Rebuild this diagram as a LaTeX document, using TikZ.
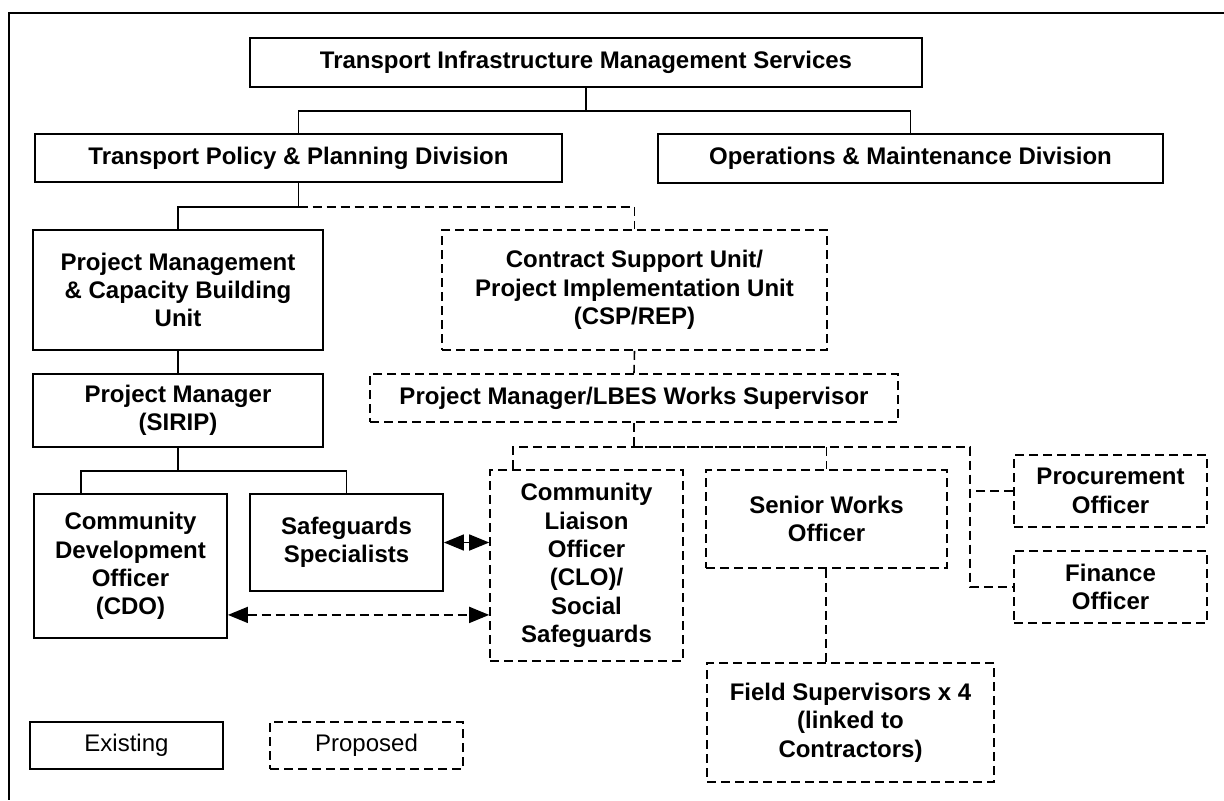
\documentclass[tikz,border=0pt]{standalone}
\usepackage{fontspec}
\setmainfont{Liberation Sans}
\usetikzlibrary{calc,arrows.meta}

\begin{document}
\begin{tikzpicture}[x=0.5pt,y=-0.5pt,
	unit/.style={draw,line width=0.9pt,inner sep=0pt,align=center,font=\bfseries\fontsize{12}{14.2}\selectfont},
	newunit/.style={unit,line width=0.8pt,dash pattern=on 4.5pt off 2.5pt},
	link/.style={line width=0.8pt},
	newlink/.style={line width=0.8pt,dash pattern=on 4.5pt off 2.5pt},
	both/.style={{Triangle[length=10pt,width=8pt]}-{Triangle[length=10pt,width=8pt]}}]
	\useasboundingbox (0,0) rectangle (1224,800);
	\draw[line width=1pt] (1224,13) -| (9,800);
	% existing units
	\node[unit,minimum width=336pt,minimum height=24.5pt] (tims) at (586,62.5) {Transport Infrastructure Management Services};
	\node[unit,minimum width=263.5pt,minimum height=24pt] (tpp) at (298.5,158) {Transport Policy \& Planning Division};
	\node[unit,minimum width=252.5pt,minimum height=24.5pt] (omd) at (910.5,158.5) {Operations \& Maintenance Division};
	\node[unit,minimum width=145pt,minimum height=60pt] (pmcb) at (178,290) {Project Management\\\& Capacity Building\\Unit};
	\node[unit,minimum width=145pt,minimum height=36.5pt] (sirip) at (178,410.5) {Project Manager\\(SIRIP)};
	\node[unit,minimum width=96.5pt,minimum height=72pt] (cdo) at (130.5,566) {Community\\Development\\Officer\\(CDO)};
	\node[unit,minimum width=96.5pt,minimum height=48.5pt] (safe) at (346.5,542.5) {Safeguards\\Specialists};
	% proposed units
	\node[newunit,minimum width=192.5pt,minimum height=60pt] (csu) at (634.5,290) {Contract Support Unit/\\Project Implementation Unit\\(CSP/REP)};
	\node[newunit,minimum width=264pt,minimum height=24pt] (pmlbes) at (634,398) {Project Manager/LBES Works Supervisor};
	\node[newunit,minimum width=96.5pt,minimum height=95.5pt] (clo) at (586.5,565.5) {Community\\Liaison\\Officer\\(CLO)/\\Social\\Safeguards};
	\node[newunit,minimum width=120.5pt,minimum height=49pt] (swo) at (826.5,519) {Senior Works\\Officer};
	\node[newunit,minimum width=96.5pt,minimum height=36pt] (proc) at (1110.5,491) {Procurement\\Officer};
	\node[newunit,minimum width=96.5pt,minimum height=36pt] (fin) at (1110.5,587) {Finance\\Officer};
	\node[newunit,minimum width=143.5pt,minimum height=59.5pt] (field) at (850.5,722.5) {Field Supervisors x 4\\(linked to\\Contractors)};
	% legend
	\node[unit,font=\fontsize{12}{14.2}\selectfont,minimum width=96.5pt,minimum height=23.5pt] (exist) at (126.5,745.5) {Existing};
	\node[newunit,font=\fontsize{12}{14.2}\selectfont,minimum width=96.5pt,minimum height=23.5pt] (prop) at (366.5,745.5) {Proposed};
	% lines
	\draw[link] (tims.south) -- ++(0,23) coordinate (j1);
	\draw[link] (tpp.north) |- (j1) -| (omd.north);
	\draw[link] (tpp.south) -- ++(0,24) coordinate (j2) -| (pmcb.north);
	\draw[newlink] (j2) -| (csu.north);
	\draw[link] (pmcb.south) -- (sirip.north);
	\draw[newlink] (csu.south) -- (pmlbes.north);
	\draw[link] (sirip.south) -- ++(0,23) coordinate (j3);
	\draw[link] ($(cdo.north west)+(48,0)$) |- (j3) -| (safe.north);
	\draw[newlink] (pmlbes.south) -- ++(0,24) coordinate (j4);
	\draw[newlink] ($(clo.north west)+(24,0)$) |- (j4) -| (swo.north);
	\draw[newlink] (j4) -| ($(fin.west)+(-43,0)$) -- (fin.west);
	\draw[newlink] (proc.west) -- ++(-43,0);
	\coordinate (swofoot) at ($(swo.south)+(-0.5,0)$);
	\draw[newlink] (swofoot) -- (swofoot |- field.north);
	\draw[link,both] (safe.east) -- (safe.east -| clo.west);
	\coordinate (cdoarr) at ($(cdo.south east)+(0,-24)$);
	\draw[newlink,both] (cdoarr) -- (cdoarr -| clo.west);
\end{tikzpicture}
\end{document}
